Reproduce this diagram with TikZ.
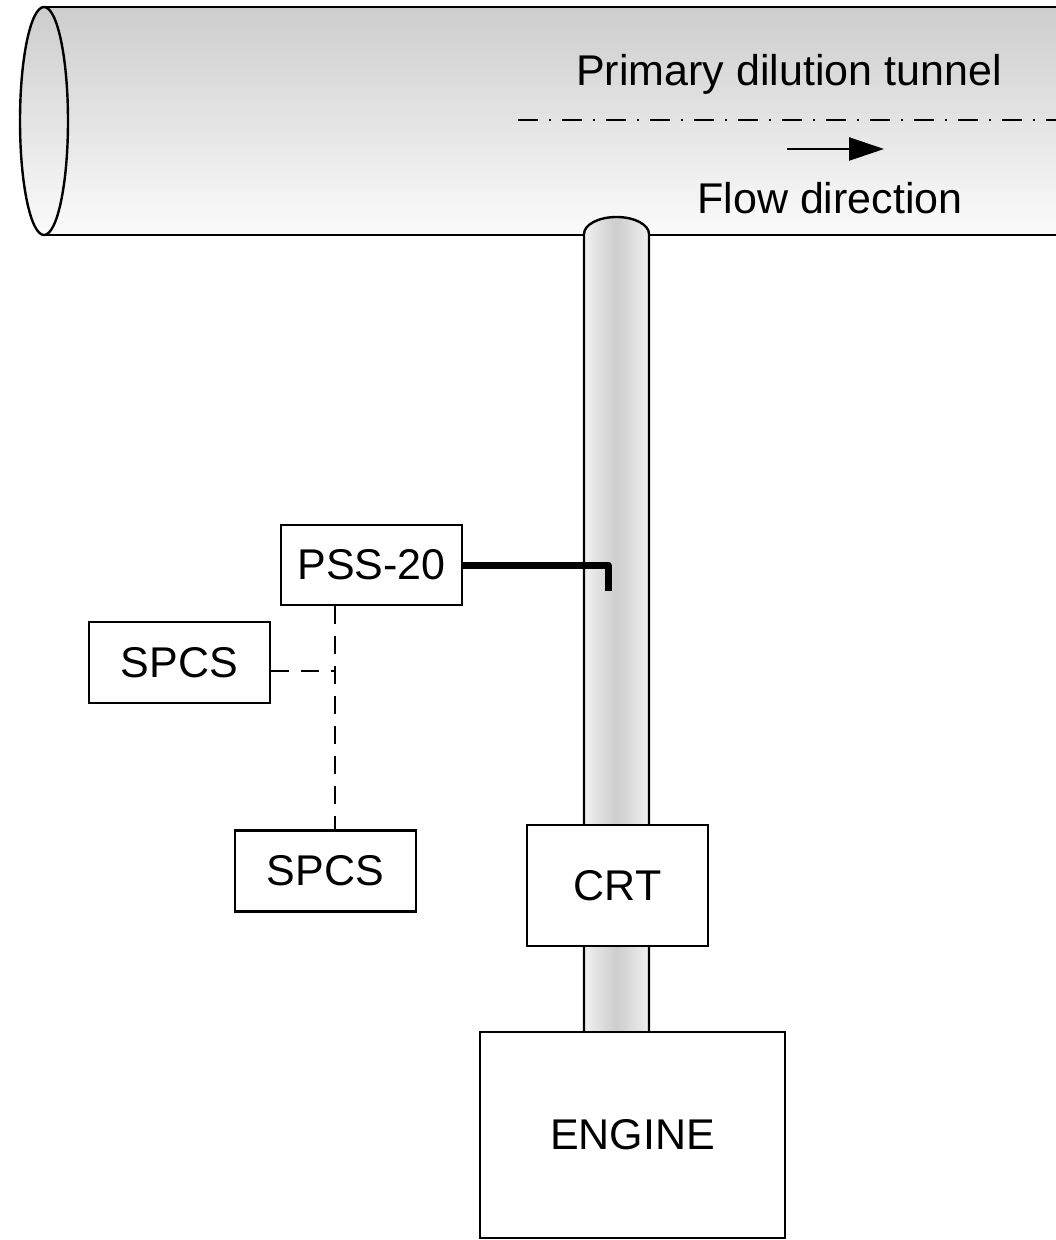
\documentclass[tikz,border=0pt]{standalone}
\usepackage{fontspec}
\setmainfont{Liberation Sans}
\usetikzlibrary{positioning,arrows.meta}
\definecolor{TunnelTop}{RGB}{205,205,205}
\definecolor{TunnelBottom}{RGB}{251,251,251}
\definecolor{PipeEdge}{RGB}{240,240,240}
\definecolor{PipeCore}{RGB}{205,205,205}

\begin{document}
\begin{tikzpicture}[
    x=0.5pt, y=-0.5pt,
    box/.style={draw=black, line width=1.1pt, fill=white, rectangle, minimum width=90.5pt, minimum height=40.5pt, align=center, font=\fontsize{21.5}{26}\selectfont},
    txt/.style={font=\fontsize{21.5}{26}\selectfont, inner sep=0pt},
    outline/.style={draw=black, line width=1.2pt},
    signal/.style={line width=3.5pt, line join=round},
    link/.style={line width=1pt, dash pattern=on 9pt off 6pt},
    axisline/.style={line width=0.9pt, dash pattern=on 10pt off 5.6pt on 0.8pt off 5.6pt}
  ]
    \useasboundingbox (0,0) rectangle (1055,1240);

    % dilution tunnel
    \fill[top color=TunnelTop, bottom color=TunnelBottom] (44,7) -- (1060,7) -- (1060,235) -- (44,235)
        arc[start angle=90, end angle=270, x radius=24, y radius=114] -- cycle;
    \draw[outline, top color=TunnelTop, bottom color=TunnelBottom] (44,121) ellipse [x radius=24, y radius=114];
    \draw[outline] (44,7) -- (1060,7);
    \draw[outline] (44,235) -- (1060,235);

    \node[txt, anchor=base] (tunnel) at (789,86) {Primary dilution tunnel};
    \node[txt, anchor=base] (flow) at (830,214) {Flow direction};
    \coordinate (axisstart) at (518,120);
    \coordinate (axisend) at (1060,120);
    \draw[axisline] (axisstart) -- (axisend);
    \coordinate (flowtail) at (787,149);
    \coordinate (flowhead) at (884,149);
    \draw[line width=1.2pt, -{Triangle[length=17.5pt, width=11.5pt]}] (flowtail) -- (flowhead);

    % transfer pipe
    \fill[left color=PipeEdge, right color=PipeEdge, middle color=PipeCore] (584,1032) -- (584,234)
        arc[start angle=180, end angle=360, x radius=32.5, y radius=17] -- (649,1032) -- cycle;
    \draw[outline] (584,1032) -- (584,234)
        arc[start angle=180, end angle=360, x radius=32.5, y radius=17] -- (649,1032);

    % instruments
    \node[box, minimum height=40pt] (pss) at (371.5,565) {PSS-20};
    \node[box] (spcsa) at (179.5,662.5) {SPCS};
    \node[box] (spcsb) at (325.5,871) {SPCS};
    \node[box, minimum height=60.5pt] (crt) at (617.5,885.5) {CRT};
    \node[box, minimum width=152.5pt, minimum height=103pt] (engine) at (632.5,1135) {ENGINE};

    \coordinate (probe) at (608,591);
    \draw[signal] (pss.east) -- (pss.east -| probe) -- (probe);

    \coordinate (junction) at (335,671);
    \draw[link] (pss.south -| junction) -- (spcsb.north -| junction);
    \draw[link] (spcsa.east |- junction) -- (junction);
\end{tikzpicture}
\end{document}
